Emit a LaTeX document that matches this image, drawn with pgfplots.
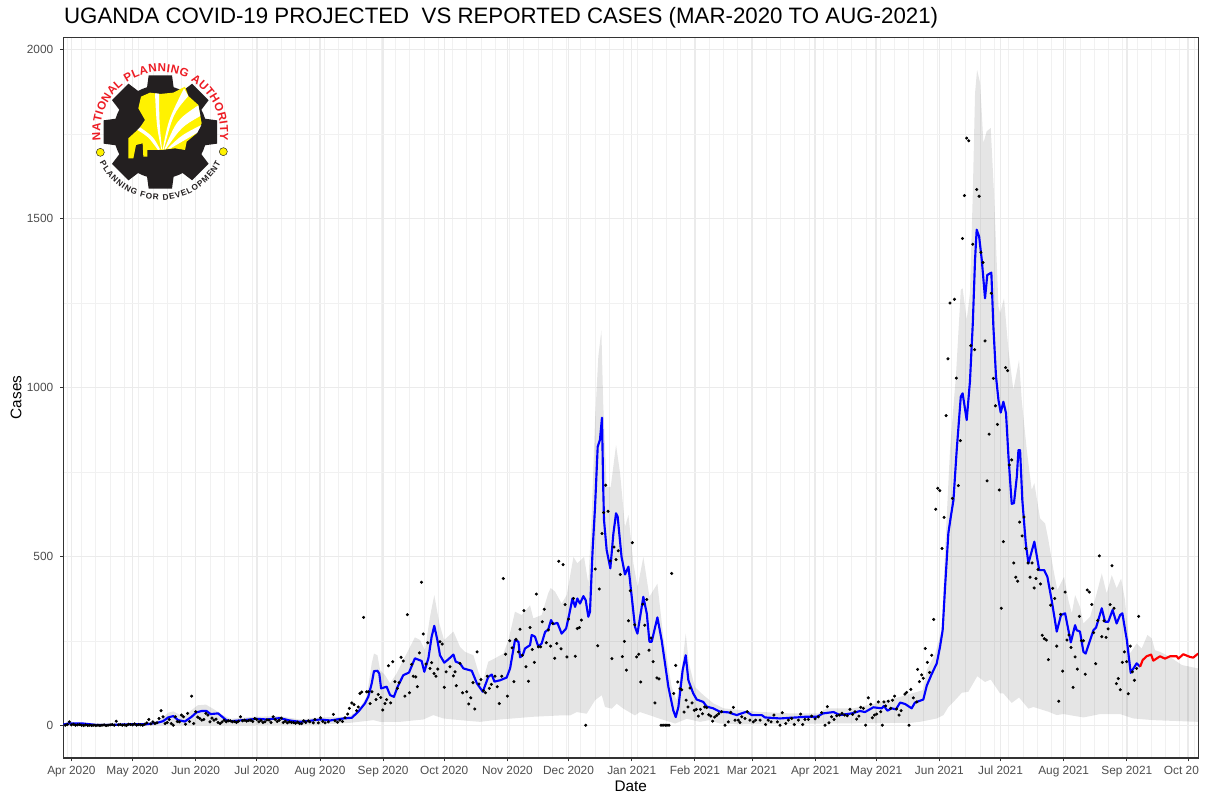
\documentclass[border=0pt]{standalone}
\usepackage{fontspec}
\setmainfont{Liberation Sans}
\usepackage{pgfplots}
\pgfplotsset{compat=1.18}
\usepgfplotslibrary{fillbetween}
\usetikzlibrary{decorations.text}
\definecolor{gridc}{HTML}{EBEBEB}
\definecolor{gridm}{HTML}{F1F1F1}
\definecolor{tickt}{HTML}{4D4D4D}
\definecolor{frame}{HTML}{333333}
\definecolor{npared}{HTML}{ED1C24}
\definecolor{npayel}{HTML}{FFF200}
\definecolor{npablk}{HTML}{231F20}
\begin{document}
\begin{tikzpicture}
\begin{axis}[
  at={(47.6pt,28.5pt)}, anchor=south west,
  scale only axis, width=851pt, height=540.7pt,
  xmin=-3.9, xmax=553, ymin=-96, ymax=2037,
  xtick={0,30,61,91,122,153,183,214,244,275,306,334,365,395,426,456,487,518,548},
  xticklabels={Apr 2020,May 2020,Jun 2020,Jul 2020,Aug 2020,Sep 2020,Oct 2020,Nov 2020,Dec 2020,Jan 2021,Feb 2021,Mar 2021,Apr 2021,May 2021,Jun 2021,Jul 2021,Aug 2021,Sep 2021,\makebox[36pt][l]{Oct 20}},
  minor xtick={-2,5,...,551},
  ytick={0,500,1000,1500,2000},
  yticklabels={0,500,1000,1500,2000},
  minor ytick={250,750,1250,1750},
  grid=both,
  major grid style={gridc,line width=1.1pt},
  minor grid style={gridm,line width=.6pt},
  tick pos=left, tick align=outside,
  major tick length=2.6pt, minor tick length=0pt,
  tick style={frame,line width=.6pt},
  axis line style={frame,line width=.8pt},
  tick label style={font=\fontsize{8.9}{10}\selectfont,text=tickt},
  yticklabel style={xshift=-1.5pt},
  xlabel={Date}, ylabel={Cases},
  label style={font=\fontsize{11.5}{13}\selectfont,text=black},
  xlabel style={at={(axis description cs:0.5,0)},anchor=north,yshift=-13.5pt},
  ylabel style={at={(axis description cs:0,0.5)},anchor=south,yshift=28pt},
  title={UGANDA COVID-19 PROJECTED \ VS REPORTED CASES (MAR-2020 TO AUG-2021)},
  title style={font=\fontsize{16.7}{19}\selectfont,at={(axis description cs:0,1)},anchor=base west,yshift=4.5pt,inner xsep=0pt,xshift=.3pt},
]
% ribbon upper
\addplot[draw=none,name path=up,forget plot] table {
-3.9 5
20 6
37 8
42 14
45 25
47.5 38
50 42
55 26
59 46
62 60
66 62
70 48
74 32
78 20
90 26
102 28
112 18
122 24
133.5 26
137 30
140.8 46
144.9 85
147.4 184
148.5 213
150.2 208
151.5 164
153.9 149
156.4 125
159.6 154
162.9 194
168.6 261
171.1 253
173.5 223
176 322
178.1 386
180.6 302
182.9 253
187.5 278
190.7 233
193.2 218
197.3 208
199.7 159
201.9 130
204.6 189
207.9 199
212 213
214.5 253
217.7 337
221 327
225.1 356
226.7 317
230.8 327
234 391
235.2 407
237.4 396
240.6 361
243.1 386
246.4 499
248.3 480
251.6 499
253.7 420
255.4 628
257 904
258.6 1091
260.1 1170
261 953
262.7 706
264.7 706
267.3 830
269.3 746
271.7 588
273.4 623
275.8 480
277.9 410
280.7 499
283.7 381
287.6 420
290.5 262
294.6 114
297 75
299.5 164
301.5 272
303.1 183
306 114
310.2 90
315 66
320 51
336 41
352.7 36
367 36
370.7 51
383.8 51
395 66
406.7 85
418 105
419.8 164
424 213
427.1 282
428.8 519
431.2 815
434.2 1042
436.5 1289
437.4 1294
439.4 1200
441 1279
442.4 1575
443.5 1871
444.5 1940
446 1901
447.6 1723
449.2 1758
451.2 1768
452.8 1575
455 1240
455.8 1220
457.7 1264
459.9 1111
462.3 993
465.1 1082
466.4 963
468.9 815
471.3 697
472.6 717
475.4 613
477.9 598
479.5 549
482 460
483.9 401
487.2 440
489.3 371
491 332
492.6 386
495 351
496.7 302
500 322
503.2 391
505.7 450
508.1 391
510.6 445
513 406
515.2 435
517.1 371
519.6 213
522.8 243
525.3 228
528.1 268
530.2 258
531.8 223
534.3 218
539.2 203
545 179
553 169
};
% ribbon lower
\addplot[draw=none,name path=lo,forget plot] table {
-3.9 0
100 1
120 2
136.7 8
148.2 16
151.5 11
161.3 11
172.7 18
177.6 31
182.6 21
190.7 16
200.5 11
210.4 18
226.7 26
240 30
244.7 30
248 40
252.9 35
257 75
260.3 90
261.9 55
265.2 50
267.6 65
270.9 50
276.6 30
279 40
284 30
288.9 20
296.3 6
302 20
308.5 11
313 16
318.3 6
328 3
367 6
411.6 8
416.5 11
424.7 21
428 31
430.4 55
433.7 75
437 97
440.2 100
444.6 146
448.4 129
451.2 136
455.8 95
457.4 95
461.5 67
465.1 83
469.7 50
472.1 55
479.5 41
483.6 31
486.9 34
496.7 24
504.9 34
514.7 34
521.2 21
531 16
553 11
};
\addplot[black,opacity=.1,forget plot,draw=none] fill between[of=up and lo];
% reported cases
\addplot[only marks,mark=*,mark size=.95pt,black,mark options={draw=none}] table {
-3 1
-2 3
-1 11
0 2
1 4
2 1
3 2
4 3
5 1
6 0
7 2
8 0
9 1
10 0
11 1
12 0
13 1
14 0
15 1
16 2
17 0
18 1
19 2
20 3
21 1
22 13
23 2
24 3
25 1
26 2
27 0
28 4
29 3
30 2
31 5
32 1
33 3
34 2
35 1
36 4
37 8
38 18
39 5
40 11
41 6
42 8
43 21
44 44
45 26
46 6
47 9
48 18
49 6
50 1
51 26
52 12
53 11
54 31
55 26
56 4
57 36
58 12
59 87
60 6
61 41
62 25
63 21
64 16
65 18
66 36
67 31
68 11
69 22
70 16
71 19
72 9
73 6
74 11
75 16
76 11
77 14
78 14
79 11
80 12
81 9
82 13
83 26
84 14
85 16
86 13
87 15
88 16
89 12
90 21
91 18
92 11
93 15
94 9
95 11
96 17
97 16
98 9
99 26
100 18
101 12
102 16
103 22
104 9
105 13
106 8
107 11
108 9
109 9
110 7
111 10
112 6
113 6
114 14
115 9
116.3 14
117 11
118.7 8
119.5 18
121.2 8
122.3 23
123.4 12
124.5 8
126.1 11
128.6 33
129.4 14
130.6 10
131.8 16
133 12
134.3 23
135.6 34
136.4 51
137.6 67
138.7 62
140 44
140.8 55
141.6 95
142.5 99
143.4 320
144.9 100
145.7 100
146.6 65
147.5 100
149.5 77
150.6 92
151.8 83
152.8 46
153.9 65
154.7 77
155.6 177
156.7 67
157.7 189
158.8 130
160 110
160.8 127
161.8 202
162.9 191
163.7 87
164.9 328
165.9 97
167 181
167.8 146
169 144
169.8 115
170.8 215
171.8 424
172.7 271
174 182
174.9 245
176 169
176.8 186
178 154
178.9 146
179.8 167
180.9 248
182 241
183 113
183.9 159
185.8 174
187.5 147
188.3 159
188.9 118
190.7 184
192 97
194 100
195 64
196 82
197.1 127
198 49
199.1 218
200 123
201 136
202.2 103
203.2 97
204.1 146
205.1 110
206.1 122
207.9 146
209 115
210 65
211.2 146
212 435
213.1 211
214 87
215.1 251
216.3 230
217.2 130
218.2 255
219.4 218
220.2 285
221.3 208
222.1 340
223.1 174
224.3 131
225.1 290
226.2 225
227.2 187
228.2 389
229.2 233
230.3 233
231.1 307
232.1 344
233.1 245
234.1 283
235.2 235
236.2 302
237.2 199
238.2 243
239.2 486
240.3 227
241.3 476
242.3 358
243.2 203
244 315
246.4 376
247.3 205
248.3 287
249.3 290
250.3 312
252.4 1
257.1 463
258.3 236
259.1 404
260.4 568
261.2 630
262.2 711
263.4 634
264.4 487
265.3 198
266.3 528
267.3 491
268.4 517
269.4 447
270.4 204
271.4 249
272.4 164
273.4 310
274.3 399
275.3 541
276.5 298
277.4 203
278.4 211
279.4 129
280.4 359
281.4 297
282.4 373
283.5 223
284.5 259
285.5 189
286.4 67
287.4 141
288.4 138
289.4 1
290.4 1
291.4 1
292.3 1
293.3 1
294.6 450
295.6 95
296.6 178
297.6 129
298.7 109
299.5 106
300.7 40
301.7 75
302.6 55
303.6 111
304.6 67
305.7 45
306.7 48
307.7 28
308.7 48
309.7 35
310.8 55
311.8 53
312.8 32
313.8 28
314.7 13
315.7 25
316.7 30
317.7 35
319.1 41
320.8 1
322.4 11
323.6 39
324.9 54
325.7 16
327.3 16
328.1 9
329 26
330.6 21
331.7 41
333 16
334.7 11
335.8 16
338 16
340.7 3
342 16
343.4 11
344.8 31
346.5 11
347.8 1
348.9 38
350.6 6
351.9 16
353.5 21
354.8 3
356.8 16
357.9 34
358.9 3
360 18
361.7 18
363.3 28
365 20
366.6 26
368.2 38
369.9 1
371 56
371.8 8
373.1 26
374.3 18
375.6 29
376.9 31
378.2 36
379.5 31
380.8 29
382.1 48
383.4 33
384.6 41
385.4 19
386.5 28
387.4 54
388.7 51
389.8 1
391.1 82
392.3 63
393.1 23
394.1 31
395.2 34
396 70
397.2 41
398 1
398.8 70
399.6 58
400.9 72
402.1 51
403 75
404 87
405 49
406.2 31
407.2 44
409.1 93
409.9 98
411.1 1
412 107
413.2 82
414.9 70
415.3 166
416.2 130
417.3 150
418.1 140
419.1 228
420.1 187
421.2 157
422.2 208
423.2 314
424.2 640
425.2 702
426.2 695
427.3 524
428.3 616
429.3 917
430.2 1085
431.2 1250
432.4 672
433.4 1261
434.3 1028
435.3 710
436.3 843
437.3 1441
438.3 1568
439.4 1738
440.4 1730
441.4 1124
442.4 1424
443.3 1112
444.3 1586
445.5 1566
446.4 1400
447.4 1370
448.4 1138
449.4 724
450.4 862
451.5 1279
452.5 1027
453.5 946
454.5 891
455.4 697
456.4 347
457.4 544
458.5 1059
459.5 1050
460.3 771
461.5 786
462.5 481
463.5 439
464.4 427
465.4 602
466.6 561
467.5 617
468.4 524
469.5 481
470.5 439
471.5 481
472.5 407
473.4 435
474.4 462
475.6 419
476.5 267
477.5 257
478.5 253
479.5 195
480.6 356
481.6 406
482.6 376
483.6 235
484.6 72
485.5 329
486.5 161
487.7 395
488.6 253
489.6 268
490.6 231
491.6 113
492.6 203
493.7 167
494.7 323
495.7 251
496.7 251
497.6 152
498.6 401
499.6 395
500.8 358
501.7 275
502.7 183
503.7 311
504.5 502
505.7 263
506.8 310
507.8 261
508.8 286
509.8 358
510.7 473
511.7 347
512.9 124
513.8 139
514.8 106
515.8 187
516.8 218
517.9 189
518.7 94
519.7 235
520.7 159
521.7 134
522.8 169
523.8 323
};
% projected
\addplot[blue,line width=1.6pt,line join=round] table {
-3.9 3
-1.6 6
5.8 6
12 2
20 2
30 4
37 4
42 8
45 13
47.5 24
50 28
52.4 16
55.7 12
59 26
61.4 39
63.9 43
66.3 43
68.3 34
72 36
74 26
76 16
78.6 13
84.3 16
90.9 20
95.8 18
102.3 22
107.2 15
112.2 11
117 14
122 18
127 15
133.5 21
137.6 23
140.8 41
144 65
145.7 85
147.4 125
148.5 161
150.2 162
151.1 154
152 110
154.7 115
156.4 90
158.3 85
160.1 115
162.9 149
165.7 157
168.6 199
171.9 191
173.2 159
175.2 199
176.8 263
178.1 295
179.6 253
180.9 208
183 186
185 196
187.5 210
188.6 189
190.7 184
192.4 169
196.5 162
199 125
201.9 100
204.6 144
206.3 151
207.6 130
210.4 134
213.6 142
215.3 169
217.7 253
219.4 248
220.2 202
221.5 208
222.6 228
225.1 238
225.9 268
227.5 263
229.2 233
230.8 243
232.5 277
234 284
235.4 312
236.5 300
238.5 304
240.6 272
242.8 287
244.4 331
245.9 376
247.2 351
248.3 376
249.6 361
251.3 383
252.4 371
253.7 322
254.5 336
255.8 519
257 647
258.3 825
259.4 845
260.4 911
261 706
261.4 608
262.7 519
264.5 465
266 568
267.3 628
268.1 618
270 499
271.7 447
273.4 470
275 381
276.6 292
277.8 272
280.7 381
282.4 331
283.7 248
284.8 248
287.6 320
289.7 252
293 114
295.4 45
296.6 25
297.9 55
300 164
301.5 208
302.8 134
305.2 95
306.9 77
310.1 70
311.8 56
315 51
318.3 41
322.4 39
326.5 31
331.4 41
333.9 31
338.8 31
340.4 24
347.8 21
352.7 23
355.9 24
360 26
365.8 26
369 36
374 40
377.2 31
383 36
387 43
389.5 40
393.6 54
397.7 51
398.8 58
400.5 44
402.6 51
404.7 48
406.7 68
409.1 64
412.4 51
414 68
418.1 77
419.8 118
422.2 152
424.7 184
426.3 233
427.6 282
428.8 411
430.4 569
431.6 618
432.9 667
434.5 815
436.5 973
437.4 983
439.4 904
441 1018
442.4 1190
443.5 1378
444.3 1467
445.5 1447
446.8 1378
448.4 1264
449.5 1333
451.5 1340
452.5 1180
453.8 1032
455 963
456.1 926
457.4 958
458.7 924
459.9 796
461.5 656
462.6 658
464 736
464.8 815
465.6 815
466.7 667
468.4 539
469.7 480
472.6 544
475 460
477.4 460
479 440
481.1 371
483.6 278
485.7 327
487.7 332
490.5 246
492.6 297
493.4 282
495 278
496.7 218
497.8 213
501.6 282
502.9 290
505.7 347
507.3 307
508.9 307
511 342
513 302
514.7 327
515.8 332
518 253
519.9 156
522.8 184
524.5 174
};
\addplot[red,line width=1.6pt,line join=round] table {
524.5 174
525.8 194
527.7 205
529.9 210
531 192
534.3 205
536.7 198
539.2 205
542.5 205
543.3 198
545.7 211
549 203
550.6 201
553 213
};
\end{axis}
% logo
\begin{scope}[shift={(45pt,567pt)},x=.25pt,y=-.25pt]
  \fill[npablk] (301,276) circle (140);
  \foreach \a in {0,45,...,315}{
    \fill[npablk,rotate around={\a:(301,276)}] (258,165) -- (266,106) -- (336,106) -- (344,165) -- cycle;
  }
  \fill[npayel] (205,295)--(238,265)--(255,240)--(235,205)--(243,170)--(270,158)--(300,162)--(340,158)--(375,140)--(385,168)--(415,195)--(425,250)--(410,280)--(380,305)--(375,330)--(345,325)--(305,330)--(262,330)--(262,350)--(250,350)--(248,310)--(228,315)--(220,355)--(205,355)--cycle;
  \fill[white] (304,328) .. controls (290,260) .. (285,160) -- (297,161) .. controls (298,250) .. (306,328) -- cycle;
  \fill[white] (308,328) .. controls (325,240) .. (372,145) -- (385,168) .. controls (340,220) .. (311,328) -- cycle;
  \fill[white] (313,328) .. controls (350,240) .. (415,196) -- (421,228) .. controls (365,260) .. (317,328) -- cycle;
  \fill[white] (322,326) .. controls (365,285) .. (424,255) -- (412,278) .. controls (370,300) .. (330,326) -- cycle;
  \fill[white] (300,328) .. controls (280,290) .. (240,262) -- (232,270) .. controls (265,290) .. (294,330) -- cycle;
  \filldraw[fill=npayel,draw=npablk,line width=.35pt] (121,337) circle (12);
  \filldraw[fill=npayel,draw=npablk,line width=.35pt] (490,335) circle (12);
\end{scope}
\path[decorate,decoration={text along path,text align=fit to path,
  text={|\bfseries\color{npared}\fontsize{8.7}{10}\selectfont|NATIONAL PLANNING AUTHORITY}}]
  (120.2pt,498pt) ++(188:45pt) arc (188:-8:45pt);
\path[decorate,decoration={text along path,text align=fit to path,
  text={|\bfseries\color{npablk}\fontsize{6.2}{7}\selectfont|PLANNING FOR DEVELOPMENT}}]
  (120.2pt,498pt) ++(207:51pt) arc (207:333:51pt);
\pgfresetboundingbox
\useasboundingbox (0,0) rectangle (909pt,597pt);
\end{tikzpicture}
\end{document}
